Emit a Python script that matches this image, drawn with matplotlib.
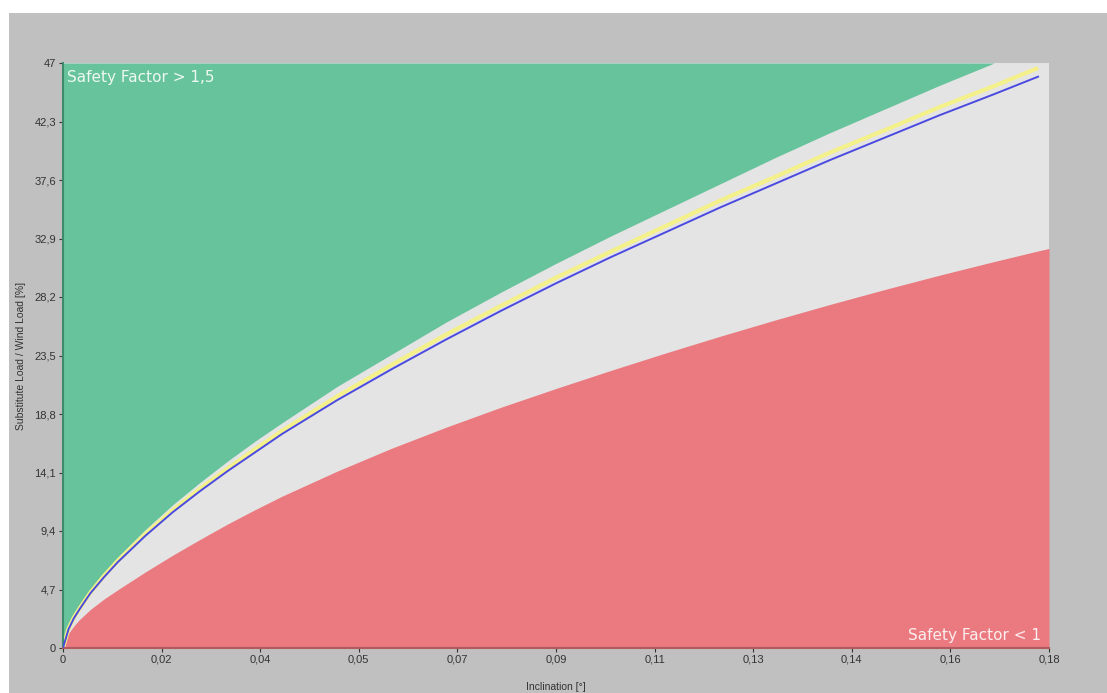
import numpy as np
import matplotlib
matplotlib.use("Agg")
import matplotlib.pyplot as plt
from matplotlib.patches import Rectangle

plt.rcParams['font.family'] = ['Liberation Sans', 'DejaVu Sans']

# Data
inclination = [0, 0.001, 0.002, 0.003, 0.005, 0.0075, 0.01, 0.015, 0.02, 0.025, 0.03, 0.035,
               0.04, 0.05, 0.06, 0.07, 0.08, 0.09, 0.10, 0.11, 0.12, 0.13, 0.14,
               0.15, 0.16, 0.17, 0.178, 0.18]
blue_curve = [0, 1.5, 2.4, 3.1, 4.4, 5.7, 6.9, 9.0, 10.9, 12.6, 14.2, 15.7,
              17.2, 19.9, 22.4, 24.8, 27.1, 29.3, 31.4, 33.4, 35.4, 37.3, 39.2,
              41.0, 42.8, 44.5, 45.9, 46.3]
yellow_curve = [0, 1.55, 2.45, 3.15, 4.45, 5.8, 7.0, 9.15, 11.05, 12.8, 14.4, 15.95,
                17.45, 20.2, 22.75, 25.2, 27.5, 29.75, 31.85, 33.9, 35.95, 37.85, 39.8,
                41.6, 43.45, 45.15, 46.6, 47.0]
green_boundary = [0, 1.6, 2.5, 3.3, 4.6, 6.0, 7.3, 9.5, 11.5, 13.3, 15.0, 16.6,
                  18.1, 21.0, 23.6, 26.2, 28.6, 30.9, 33.1, 35.2, 37.3, 39.4, 41.4,
                  43.3, 45.2, 47.0, 48.4, 48.8]
red_boundary = [0, 1.18, 1.78, 2.28, 3.1, 3.94, 4.68, 6.1, 7.45, 8.72, 9.95, 11.1,
                12.2, 14.2, 16.05, 17.75, 19.35, 20.85, 22.3, 23.7, 25.05, 26.35, 27.6,
                28.8, 29.95, 31.05, 31.9, 32.1]

x_tick_labels = ['0', '0,02', '0,04', '0,05', '0,07', '0,09', '0,11', '0,13', '0,14', '0,16', '0,18']
y_tick_labels = ['0', '4,7', '9,4', '14,1', '18,8', '23,5', '28,2', '32,9', '37,6', '42,3', '47']
x_max = 0.18
y_max = 47

W, H = 1107, 693
fig = plt.figure(figsize=(W / 100, H / 100), dpi=100, facecolor='white')
fig.patches.append(Rectangle((9 / W, 0), 1 - 9 / W, (H - 13) / H, transform=fig.transFigure,
                             facecolor='#c0c0c0', edgecolor='none', zorder=-10))

ax = fig.add_axes([63 / W, (H - 648) / H, (1049 - 63) / W, (648 - 63) / H])
ax.set_facecolor('#e4e4e4')

x = np.array(inclination)
ax.fill_between(x, np.minimum(green_boundary, y_max), y_max, color='#67c39c', lw=0, zorder=1)
ax.fill_between(x, 0, red_boundary, color='#eb7a80', lw=0, zorder=1)
ax.plot(x[:-1], yellow_curve[:-1], color='#f4f08a', lw=3.0, zorder=2, solid_capstyle='butt')
ax.plot(x[:-1], blue_curve[:-1], color='#4a4ae0', lw=1.4, zorder=3)

ax.set_xlim(0, x_max)
ax.set_ylim(0, y_max)

xt = np.linspace(0, x_max, len(x_tick_labels))
yt = np.linspace(0, y_max, len(y_tick_labels))
ax.set_xticks(xt)
ax.set_xticklabels(x_tick_labels)
ax.set_yticks(yt)
ax.set_yticklabels(y_tick_labels)
ax.tick_params(axis='both', labelsize=8, colors='#333333', length=3, width=0.8, pad=2)

for s in ['top', 'right']:
    ax.spines[s].set_visible(False)
ax.spines['left'].set_color('#3f8a6a')
ax.spines['left'].set_linewidth(1.5)
ax.spines['bottom'].set_color('#b05a60')
ax.spines['bottom'].set_linewidth(1.5)

ax.set_xlabel('Inclination [°]', fontsize=7.5, color='#333333', labelpad=12)
ax.set_ylabel('Substitute Load / Wind Load [%]', fontsize=7.5, color='#333333', labelpad=6)

ax.text(0.004, 0.988, 'Safety Factor > 1,5', transform=ax.transAxes, ha='left', va='top',
        color='#eef8f2', fontsize=11, family='DejaVu Sans')
ax.text(0.992, 0.008, 'Safety Factor < 1', transform=ax.transAxes, ha='right', va='bottom',
        color='#fbeeee', fontsize=11, family='DejaVu Sans')

fig.savefig('out.png', dpi=100, facecolor=fig.get_facecolor())
